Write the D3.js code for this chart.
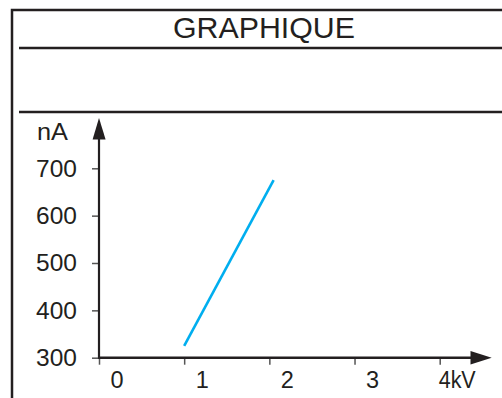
<!DOCTYPE html>
<html>
<head>
<meta charset="utf-8">
<script src="https://cdn.jsdelivr.net/npm/d3@7"></script>
<style>
  html, body { margin: 0; padding: 0; background: #fff; }
  svg { display: block; }
  text { font-family: "Liberation Sans", Arial, Helvetica, sans-serif; fill: #231f20; }
</style>
</head>
<body>
<script>
// ---- data ----
const title = "GRAPHIQUE";
const yUnit = "nA";
const xTicks = [0, 1, 2, 3, 4];
const xTickLabels = ["0", "1", "2", "3", "4kV"];
const yTicks = [300, 400, 500, 600, 700];
const voltage = [1.0, 2.05];      // kV
const current = [325, 675];       // nA

const W = 502, H = 398;
const ink = "#231f20";
const svg = d3.select("body").append("svg").attr("width", W).attr("height", H);

// frame
svg.append("path")
  .attr("d", `M12,${H} L12,10 L${W},10`)
  .attr("fill", "none").attr("stroke", ink).attr("stroke-width", 2.5);
svg.append("line").attr("x1", 19).attr("x2", W).attr("y1", 48).attr("y2", 48)
  .attr("stroke", ink).attr("stroke-width", 2.5);
svg.append("line").attr("x1", 19).attr("x2", W).attr("y1", 112).attr("y2", 112)
  .attr("stroke", ink).attr("stroke-width", 2.5);

svg.append("text").attr("x", 264).attr("y", 38.3)
  .attr("text-anchor", "middle").attr("font-size", 30)
  .attr("textLength", 182).attr("lengthAdjust", "spacingAndGlyphs")
  .text(title);

// scales
const x = d3.scaleLinear().domain([0, 4]).range([99, 439.7]);
const y = d3.scaleLinear().domain([300, 700]).range([357.7, 168.3]);

// y axis ticks + labels
const gy = svg.append("g").attr("transform", `translate(${x(0)},0)`)
  .call(d3.axisLeft(y).tickValues(yTicks).tickSize(7).tickPadding(15).tickFormat(d3.format("d")));
gy.select(".domain").remove();
gy.selectAll(".tick line").attr("stroke", "#555").attr("stroke-width", 1.5);
gy.selectAll(".tick text").attr("font-size", 24.5).attr("fill", ink)
  .attr("font-family", "Liberation Sans, Arial, sans-serif");

// x axis ticks + labels
const gx = svg.append("g").attr("transform", `translate(0,${y(300)})`)
  .call(d3.axisBottom(x).tickValues(xTicks).tickSize(7).tickFormat((d, i) => xTickLabels[i]));
gx.select(".domain").remove();
gx.selectAll(".tick line").attr("stroke", "#555").attr("stroke-width", 1.5);
gx.selectAll(".tick text").attr("font-size", 23.5).attr("fill", ink)
  .attr("font-family", "Liberation Sans, Arial, sans-serif")
  .attr("dy", null).attr("y", 30.8)
  .attr("text-anchor", (d, i) => i === xTicks.length - 1 ? "start" : "middle")
  .attr("x", (d, i) => i === xTicks.length - 1 ? -1.5 : 17.5)
  .each(function(d, i) {
    if (i === xTicks.length - 1) d3.select(this).attr("textLength", 37).attr("lengthAdjust", "spacingAndGlyphs");
  });

// axis lines with arrows
svg.append("line").attr("x1", x(0)).attr("x2", 472).attr("y1", y(300)).attr("y2", y(300))
  .attr("stroke", ink).attr("stroke-width", 2.5);
svg.append("path")
  .attr("d", `M470.5,351 L491.7,${y(300)} L470.5,364.4 Z`).attr("fill", ink);
svg.append("line").attr("x1", x(0)).attr("x2", x(0)).attr("y1", y(300) + 1.2).attr("y2", 138)
  .attr("stroke", ink).attr("stroke-width", 2.2);
svg.append("path")
  .attr("d", `M92.6,139.5 L${x(0)},118 L105.6,139.5 Z`).attr("fill", ink);

svg.append("text").attr("x", 37).attr("y", 140).attr("font-size", 23)
  .attr("textLength", 31).attr("lengthAdjust", "spacingAndGlyphs").text(yUnit);

// data line
const pts = voltage.map((v, i) => [v, current[i]]);
svg.append("path").datum(pts)
  .attr("d", d3.line().x(d => x(d[0])).y(d => y(d[1])))
  .attr("fill", "none").attr("stroke", "#00aeef").attr("stroke-width", 2.6);
</script>
</body>
</html>
